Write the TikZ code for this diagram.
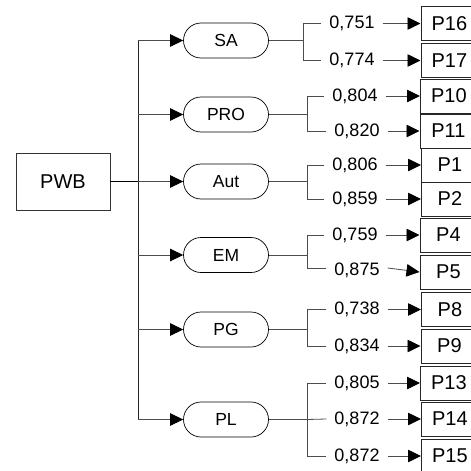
\documentclass[tikz,border=0pt]{standalone}
\usepackage{fontspec}
\setmainfont{Liberation Sans}
\usetikzlibrary{arrows.meta,shapes.misc}
\begin{document}
\begin{tikzpicture}[x=1pt,y=-1pt,
 line/.style={draw=black!70, line width=0.8pt},
 arr/.style={line, -{Triangle[length=13pt,width=12.5pt,fill=black,color=black]}},
 root/.style={draw=black!80, line width=0.8pt, minimum width=94pt, minimum height=57pt, inner sep=0pt, font=\fontsize{20}{20}\selectfont},
 factor/.style={draw=black, line width=0.7pt, rounded rectangle, minimum width=85pt, minimum height=35pt, inner sep=0pt, font=\fontsize{17.5}{17.5}\selectfont},
 item/.style={draw=black!85, line width=0.8pt, anchor=west, minimum width=57pt, minimum height=34pt, inner sep=0pt, font=\fontsize{20}{20}\selectfont},
 load/.style={inner xsep=8pt, inner ysep=2pt, font=\fontsize{18}{18}\selectfont}]
\useasboundingbox (0,0) rectangle (471,471);

% root
\node[root] (PWB) at (63,181.5) {PWB};

% factors
\node[factor] (SA)  at (226,40.5)  {SA};
\node[factor] (PRO) at (226,114.5) {PRO};
\node[factor] (Aut) at (226,181.5) {Aut};
\node[factor] (EM)  at (226,255)   {EM};
\node[factor] (PG)  at (226,329.5) {PG};
\node[factor] (PL)  at (226,419.5) {PL};

% trunk
\coordinate (tSA)  at (138,40.5);
\coordinate (tPRO) at (138,114.5);
\coordinate (tAut) at (138,181.5);
\coordinate (tEM)  at (138,255);
\coordinate (tPG)  at (138,329.5);
\coordinate (tPL)  at (138,419.5);
\draw[draw=black, line width=1.3pt] (PWB.east) -- (tAut);
\draw[draw=black!85, line width=1pt] (tSA) -- (tPL);
\foreach \f in {SA,PRO,Aut,EM,PG,PL}{
  \draw[arr] (t\f) -- (\f.west);
}

% items
\node[item] (P16) at (420.5,23.5)  {P16};
\node[item] (P17) at (420.5,60.5)  {P17};
\node[item] (P10) at (420,96)      {P10};
\node[item] (P11) at (419.5,131)   {P11};
\node[item] (P1)  at (421,165)     {P1};
\node[item] (P2)  at (421,199)     {P2};
\node[item] (P4)  at (419.5,235)   {P4};
\node[item] (P5)  at (419.5,272)   {P5};
\node[item] (P8)  at (421,309.5)   {P8};
\node[item] (P9)  at (420.5,346)   {P9};
\node[item] (P13) at (420,383)     {P13};
\node[item] (P14) at (421,419)     {P14};
\node[item] (P15) at (421,456)     {P15};

% loadings
\node[load] (l16) at (352,23.5)  {0,751};
\node[load] (l17) at (352,60.5)  {0,774};
\node[load] (l10) at (355,96)    {0,804};
\node[load] (l11) at (357,131)   {0,820};
\node[load] (l1)  at (355,165)   {0,806};
\node[load] (l2)  at (355,199)   {0,859};
\node[load] (l4)  at (355,235)   {0,759};
\node[load] (l5)  at (357,270)   {0,875};
\node[load] (l8)  at (357,309.5) {0,738};
\node[load] (l9)  at (357,346)   {0,834};
\node[load] (l13) at (357,383)   {0,805};
\node[load] (l14) at (357,419)   {0,872};
\node[load] (l15) at (357,456)   {0,872};

% junctions
\coordinate (jSA)  at (303,40.5);
\coordinate (jPRO) at (307,114.5);
\coordinate (jAut) at (307,181.5);
\coordinate (jEM)  at (307,255);
\coordinate (jPG)  at (307,329.5);
\coordinate (jPL)  at (307,419.5);
\foreach \f in {SA,PRO,Aut,EM,PG,PL}{
  \draw[line] (\f.east) -- (j\f);
}
\draw[line] (jSA) |- (l16.west);  \draw[line] (jSA) |- (l17.west);
\draw[line] (jPRO) |- (l10.west); \draw[line] (jPRO) |- (l11.west);
\draw[line] (jAut) |- (l1.west);  \draw[line] (jAut) |- (l2.west);
\draw[line] (jEM) |- (l4.west);   \draw[line] (jEM) |- ([yshift=2pt]l5.west);
\draw[line] (jPG) |- (l8.west);   \draw[line] (jPG) |- (l9.west);
\draw[line] (jPL) |- (l13.west);  \draw[line] (jPL) -- (l14.west);
\draw[line] (jPL) |- (l15.west);

% arrows to items
\draw[arr] (l16.east) -- (P16.west);
\draw[arr] (l17.east) -- (P17.west);
\draw[arr] (l10.east) -- (P10.west);
\draw[arr] (l11.east) -- (P11.west);
\draw[arr] (l1.east) -- (P1.west);
\draw[arr] (l2.east) -- (P2.west);
\draw[arr] (l4.east) -- (P4.west);
\draw[arr] ([yshift=2pt]l5.east) -- (P5.west);
\draw[arr] (l8.east) -- (P8.west);
\draw[arr] (l9.east) -- (P9.west);
\draw[arr] (l13.east) -- (P13.west);
\draw[arr] (l14.east) -- (P14.west);
\draw[arr] (l15.east) -- (P15.west);
\end{tikzpicture}
\end{document}
